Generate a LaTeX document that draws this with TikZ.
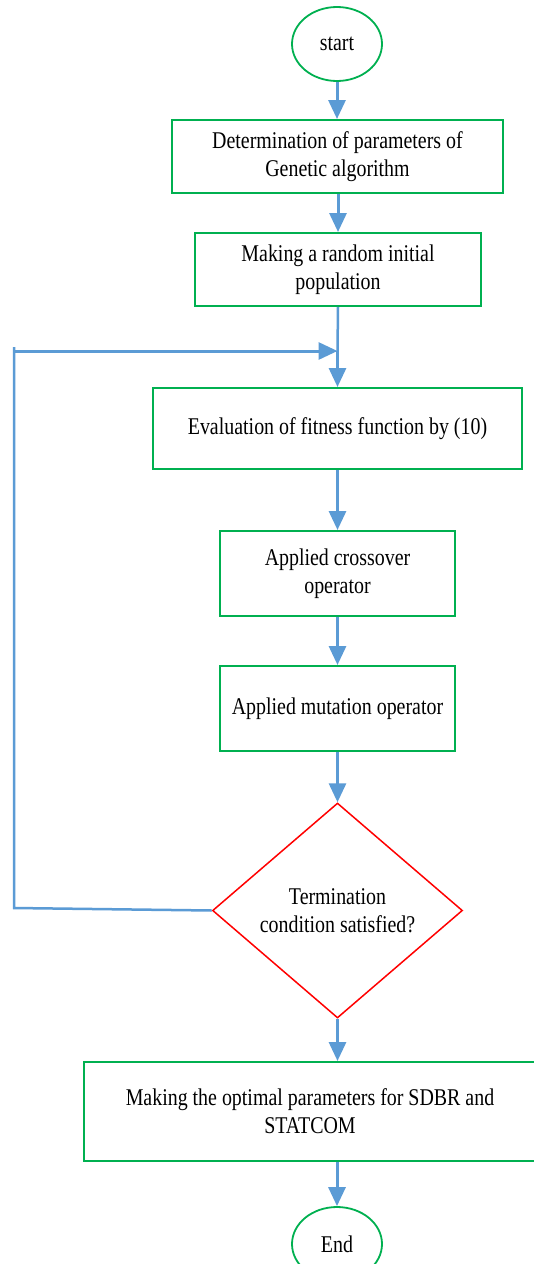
\documentclass[tikz,border=0pt]{standalone}
\usepackage{fontspec}
\setmainfont{Liberation Serif}[FakeStretch=0.83]
\usetikzlibrary{arrows.meta,shapes.geometric}
\definecolor{boxgreen}{HTML}{00B050}
\definecolor{flowblue}{HTML}{5B9BD5}
\definecolor{decred}{HTML}{FF0000}
\begin{document}
\begin{tikzpicture}[x=1pt,y=-1pt,
  every node/.style={font=\fontsize{24}{28}\selectfont, align=center, inner sep=0pt},
  procbox/.style={draw=boxgreen, line width=2pt, rectangle},
  termnode/.style={draw=boxgreen, line width=1.8pt, ellipse},
  decnode/.style={draw=decred, line width=1.5pt, diamond},
  flow/.style={draw=flowblue, line width=3pt, -{Triangle[width=17pt,length=19pt]}},
  loopline/.style={draw=flowblue, line width=2.5pt}]
\useasboundingbox[fill=white] (0,0) rectangle (534,1264);

\node[termnode, minimum width=90pt, minimum height=74pt] (start) at (337,44) {start};
\node[procbox, minimum width=331pt, minimum height=73pt] (b1) at (337.5,156.5) {Determination of parameters of\\Genetic algorithm};
\node[procbox, minimum width=286pt, minimum height=73pt] (b2) at (338,269.5) {Making a random initial\\population};
\node[procbox, minimum width=369pt, minimum height=81pt] (b3) at (337.5,428.5) {Evaluation of fitness function by (10)};
\node[procbox, minimum width=235pt, minimum height=85pt] (b4) at (337.5,573.5) {Applied crossover\\operator};
\node[procbox, minimum width=235pt, minimum height=85pt] (b5) at (337.5,708.5) {Applied mutation operator};
\node[decnode, minimum width=250pt, minimum height=215pt] (dec) at (337.5,910.5) {Termination\\condition satisfied?};
\node[procbox, minimum width=452pt, minimum height=99pt] (b6) at (310,1111.5) {Making the optimal parameters for SDBR and\\STATCOM};
\node[termnode, minimum width=90pt, minimum height=74pt] (end) at (337,1244) {End};

\coordinate (m) at (337.5,351);
\coordinate (lc) at (14,908);
\coordinate (lt) at (14,347);

\draw[flow] (start.south) -- (start.south |- b1.north);
\draw[flow] (b1.south -| b2.north) -- (b2.north);
\draw[loopline] (b2.south) -- (m);
\draw[flow] (m) -- (m |- b3.north);
\draw[flow] (b3.south) -- (b3.south |- b4.north);
\draw[flow] (b4.south) -- (b5.north);
\draw[flow] (b5.south) -- (dec.north);
\draw[flow] (dec.south) -- (dec.south |- b6.north);
\draw[flow] (end.north |- b6.south) -- (end.north);
\draw[loopline] (dec.west) -- (lc) -- (lt);
\draw[flow] (lt |- m) -- (m);
\end{tikzpicture}
\end{document}
